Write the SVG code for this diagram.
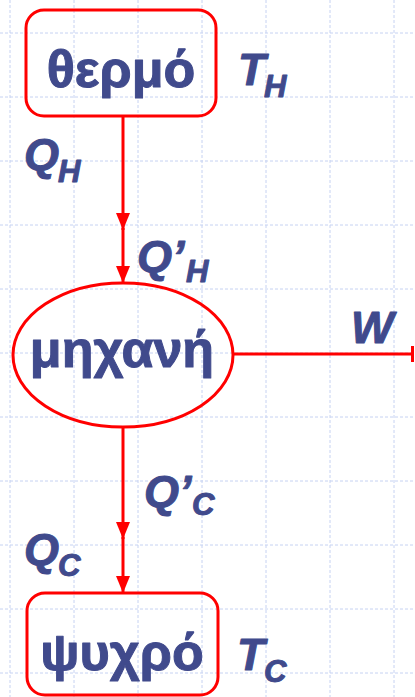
<svg xmlns="http://www.w3.org/2000/svg" width="415" height="697" viewBox="0 0 415 697">
<style>
.grid line{stroke:#c6d2f2;stroke-width:1;stroke-dasharray:3 2}
.shape{fill:none;stroke:#ff0000;stroke-width:3}
.conn{fill:none;stroke:#ff0000;stroke-width:3}
.lbl{font-family:"Liberation Sans",Arial,sans-serif;font-weight:bold;fill:#404a8c;stroke:#404a8c;stroke-width:1;stroke-linejoin:round}
.big{font-size:52px}
.it{font-style:italic;font-size:45px}
.sub{font-style:italic;font-size:31px}
</style>
<defs>
<marker id="arr" viewBox="0 0 17 14" refX="17" refY="7" markerWidth="17" markerHeight="14" markerUnits="userSpaceOnUse" orient="auto">
<path d="M0,0 L17,7 L0,14 Z" fill="#ff0000"/>
</marker>
<marker id="bar" viewBox="0 0 4 16" refX="2" refY="8" markerWidth="4" markerHeight="16" markerUnits="userSpaceOnUse" orient="auto">
<rect x="0" y="0" width="3" height="16" fill="#ff0000"/>
</marker>
</defs>
<rect width="415" height="697" fill="#ffffff"/>
<g class="grid">
<line x1="10" y1="0" x2="10" y2="697"/><line x1="74" y1="0" x2="74" y2="697"/><line x1="138" y1="0" x2="138" y2="697"/><line x1="202" y1="0" x2="202" y2="697"/><line x1="266" y1="0" x2="266" y2="697"/><line x1="330" y1="0" x2="330" y2="697"/><line x1="394" y1="0" x2="394" y2="697"/>
<line x1="0" y1="33" x2="415" y2="33"/><line x1="0" y1="97" x2="415" y2="97"/><line x1="0" y1="161" x2="415" y2="161"/><line x1="0" y1="225" x2="415" y2="225"/><line x1="0" y1="289" x2="415" y2="289"/><line x1="0" y1="353" x2="415" y2="353"/><line x1="0" y1="417" x2="415" y2="417"/><line x1="0" y1="481" x2="415" y2="481"/><line x1="0" y1="545" x2="415" y2="545"/><line x1="0" y1="609" x2="415" y2="609"/><line x1="0" y1="673" x2="415" y2="673"/>
</g>
<g id="connectors">
<line class="conn" x1="123" y1="116" x2="123" y2="230" marker-end="url(#arr)"/>
<line class="conn" x1="123" y1="228" x2="123" y2="283" marker-end="url(#arr)"/>
<line class="conn" x1="233" y1="354" x2="413" y2="354" marker-end="url(#bar)"/>
<line class="conn" x1="123" y1="427" x2="123" y2="539" marker-end="url(#arr)"/>
<line class="conn" x1="123" y1="537" x2="123" y2="593" marker-end="url(#arr)"/>
</g>
<g id="hot">
<rect class="shape" x="26" y="10" width="190" height="106" rx="18"/>
<text class="lbl big" x="121" y="87" text-anchor="middle">θερμό</text>
</g>
<g id="engine">
<ellipse class="shape" cx="123" cy="355" rx="110" ry="72"/>
<text class="lbl big" x="122" y="367" text-anchor="middle">μηχανή</text>
</g>
<g id="cold">
<rect class="shape" x="27" y="593" width="191" height="102" rx="18"/>
<text class="lbl big" x="122" y="670" text-anchor="middle">ψυχρό</text>
</g>
<g id="labels">
<text class="lbl" x="238" y="85"><tspan class="it">T</tspan><tspan class="sub" x="264" y="97">H</tspan></text>
<text class="lbl" x="24" y="170"><tspan class="it">Q</tspan><tspan class="sub" x="58" y="182">H</tspan></text>
<text class="lbl" x="137" y="272"><tspan class="it">Q’</tspan><tspan class="sub" x="186" y="282">H</tspan></text>
<text class="lbl" x="351" y="343"><tspan class="it">W</tspan></text>
<text class="lbl" x="144" y="507"><tspan class="it">Q’</tspan><tspan class="sub" x="192" y="515">C</tspan></text>
<text class="lbl" x="24" y="565"><tspan class="it">Q</tspan><tspan class="sub" x="58" y="576">C</tspan></text>
<text class="lbl" x="237" y="670"><tspan class="it">T</tspan><tspan class="sub" x="264" y="682">C</tspan></text>
</g>
</svg>
